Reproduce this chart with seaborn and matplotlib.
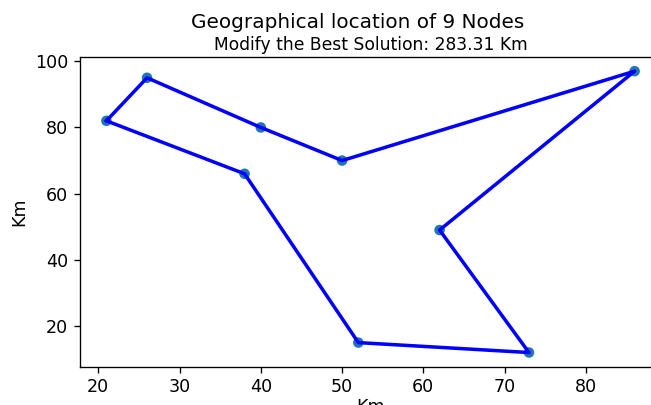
import matplotlib
matplotlib.use("Agg")
import matplotlib.pyplot as plt
import seaborn as sns
import pandas as pd

# Node coordinates (Km)
node_x = [21, 26, 40, 50, 86, 62, 73, 52, 38]
node_y = [82, 95, 80, 70, 97, 49, 12, 15, 66]
# Tour order (closed)
route = [0, 1, 2, 3, 4, 5, 6, 7, 8, 0]
title = "Geographical location of 9 Nodes"
subtitle = "Modify the Best Solution: 283.31 Km"

nodes = pd.DataFrame({"x": node_x, "y": node_y})
path = pd.DataFrame({"x": [node_x[i] for i in route],
                     "y": [node_y[i] for i in route],
                     "step": list(range(len(route)))})

DPI = 120
fig = plt.figure(figsize=(651 / DPI, 405 / DPI), dpi=DPI)
ax = fig.add_axes([0.1229, 0.0948, 0.8925, 0.7642])

sns.scatterplot(data=nodes, x="x", y="y", ax=ax, color="#1f77b4", s=40,
                edgecolor="none", zorder=2)
sns.lineplot(data=path, x="x", y="y", ax=ax, sort=False, estimator=None,
             color="blue", linewidth=2.1, zorder=3)

ax.set_xticks([20, 30, 40, 50, 60, 70, 80])
ax.set_yticks([20, 40, 60, 80, 100])
ax.tick_params(labelsize=10.5)
ax.set_xlabel("Km", fontsize=10.5, labelpad=1)
ax.set_ylabel("Km", fontsize=10.5)
ax.set_title(subtitle, fontsize=10.3, pad=4)
fig.suptitle(title, x=358 / 651, y=0.968, fontsize=12)

fig.savefig("out.png", dpi=DPI)
